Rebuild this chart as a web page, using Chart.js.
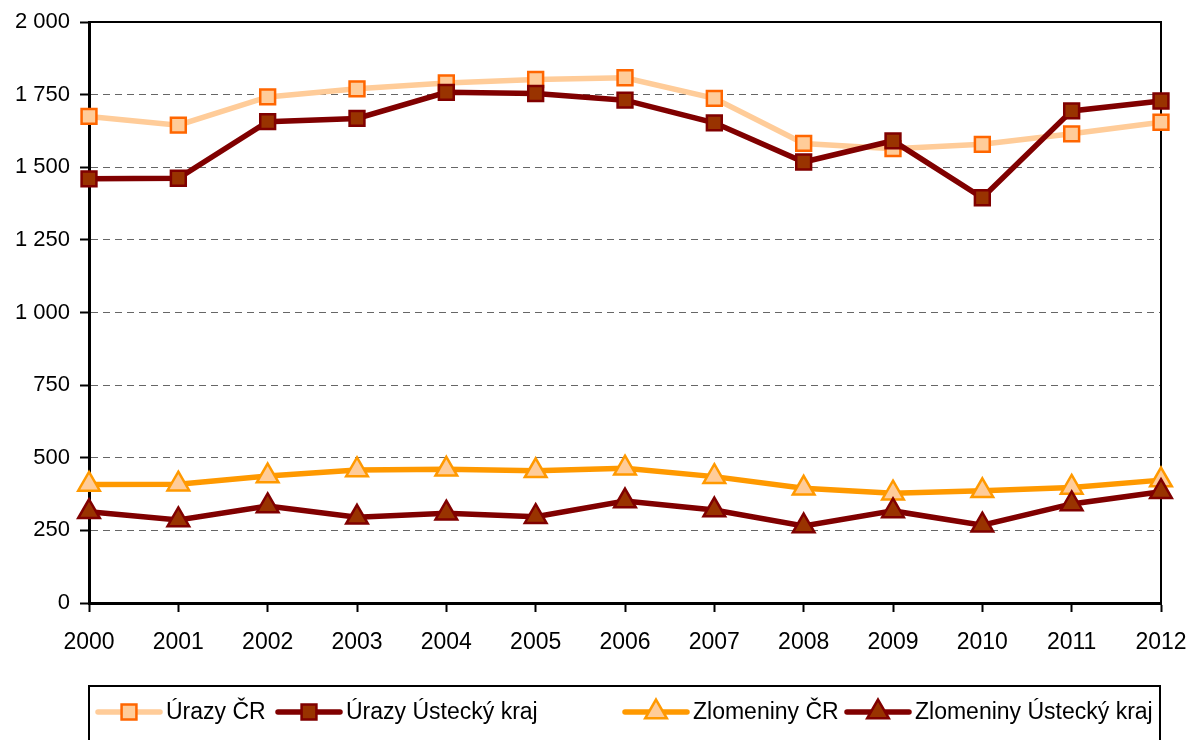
<!DOCTYPE html>
<html>
<head>
<meta charset="utf-8">
<script src="https://cdn.jsdelivr.net/npm/chart.js@4/dist/chart.umd.min.js"></script>
<style>
  body { margin: 0; background: #fff; }
  #wrap { width: 1195px; height: 740px; position: relative; }
</style>
</head>
<body>
<div id="wrap"><canvas id="myChart"></canvas></div>
<script>
// -------------------- Data -------------------- //

var years = ["2000","2001","2002","2003","2004","2005","2006","2007","2008","2009","2010","2011","2012"];

var urazyCR       = [1675, 1645, 1742, 1770, 1790, 1802, 1808, 1737, 1582, 1564, 1579, 1615, 1655];
var urazyUstecky  = [1460, 1462, 1657, 1668, 1758, 1754, 1731, 1653, 1518, 1591, 1395, 1694, 1728];
var zlomCR        = [408, 409, 437, 458, 460, 455, 464, 435, 395, 378, 386, 398, 423];
var zlomUstecky   = [314, 286, 334, 295, 309, 297, 351, 320, 265, 317, 268, 341, 383];

var seriesNames = ["Úrazy ČR", "Úrazy Ústecký kraj", "Zlomeniny ČR", "Zlomeniny Ústecký kraj"];

var yTicks = [0, 250, 500, 750, 1000, 1250, 1500, 1750, 2000];

var legendX = [98, 278, 625, 847]; // start of each legend entry

// -------------------- Helpers -------------------- //

function formatThousands(v) {
  if (v < 1000) return String(v);
  var rest = String(v % 1000);
  while (rest.length < 3) rest = "0" + rest;
  return Math.floor(v / 1000) + " " + rest;
}

function makeSeries(label, data, line, fill, border, shape, radius, order) {
  return {
    label: label,
    data: data,
    borderColor: line,
    borderWidth: 5.5,
    backgroundColor: fill,
    pointBackgroundColor: fill,
    pointBorderColor: border,
    pointBorderWidth: 2.5,
    pointStyle: shape,
    pointRadius: radius,
    pointHoverRadius: radius,
    tension: 0,
    fill: false,
    order: order
  };
}

// -------------------- Plugins -------------------- //

var framePlugin = {
  id: "frame",
  beforeDatasetsDraw: function(chart) {
    var a = chart.chartArea;
    var ctx = chart.ctx;
    ctx.save();
    ctx.strokeStyle = "#000";
    ctx.lineWidth = 2;
    ctx.beginPath();
    ctx.moveTo(a.left, a.top);
    ctx.lineTo(a.right, a.top);
    ctx.lineTo(a.right, a.bottom);
    ctx.stroke();
    ctx.restore();
  }
};

var legendPlugin = {
  id: "boxLegend",
  afterDraw: function(chart) {
    var ctx = chart.ctx;
    var y = 712;
    ctx.save();
    ctx.strokeStyle = "#000";
    ctx.lineWidth = 2;
    ctx.strokeRect(89, 686, 1071, 70);

    chart.data.datasets.forEach(function(ds, i) {
      var x0 = legendX[i];
      ctx.strokeStyle = ds.borderColor;
      ctx.lineWidth = 5.5;
      ctx.lineCap = "round";
      ctx.beginPath();
      ctx.moveTo(x0, y);
      ctx.lineTo(x0 + 62, y);
      ctx.stroke();

      ctx.fillStyle = ds.pointBackgroundColor;
      ctx.strokeStyle = ds.pointBorderColor;
      ctx.lineWidth = 2.5;
      Chart.helpers.drawPoint(ctx, { pointStyle: ds.pointStyle, radius: ds.pointRadius, borderWidth: 2.5, rotation: 0 }, x0 + 31, y);

      ctx.fillStyle = "#000";
      ctx.font = "23px 'Liberation Sans', Arial";
      ctx.textBaseline = "middle";
      ctx.textAlign = "left";
      ctx.fillText(ds.label, x0 + 68, y + 1);
    });
    ctx.restore();
  }
};

// -------------------- Chart -------------------- //

var chartDiv = document.getElementById("myChart").getContext("2d");
var chart = new Chart(chartDiv, {
  type: "line",
  data: {
    labels: years,
    datasets: [
      makeSeries(seriesNames[0], urazyCR, "#FFCC99", "#FFCC99", "#FF6600", "rect", 10.5, 1),
      makeSeries(seriesNames[1], urazyUstecky, "#800000", "#993300", "#800000", "rect", 10.5, 0),
      makeSeries(seriesNames[2], zlomCR, "#FF9900", "#FFCC99", "#FF9900", "triangle", 12.5, 3),
      makeSeries(seriesNames[3], zlomUstecky, "#800000", "#993300", "#800000", "triangle", 12.5, 2)
    ]
  },
  options: {
    responsive: true,
    maintainAspectRatio: false,
    animation: false,
    layout: { padding: { left: 0, right: 34, top: 22, bottom: 77 } },
    plugins: {
      legend: { display: false },
      tooltip: { enabled: false }
    },
    scales: {
      x: {
        offset: false,
        afterFit: function(scale) {
          scale.height = 60;
          scale.paddingLeft = 0;   // don't let the last label squeeze the plot
          scale.paddingRight = 0;
        },
        grid: {
          drawOnChartArea: false,
          tickLength: 9,
          tickColor: "#000",
          tickWidth: 2
        },
        border: { color: "#000", width: 3 },
        ticks: {
          color: "#000",
          padding: 17,
          maxRotation: 0,
          font: { family: "'Liberation Sans', Arial", size: 23 }
        }
      },
      y: {
        min: 0,
        max: 2000,
        afterFit: function(scale) {
          scale.width = 89;
          scale.paddingTop = 0;
          scale.paddingBottom = 0;
        },
        afterBuildTicks: function(scale) {
          scale.ticks = yTicks.map(function(v) { return { value: v }; });
        },
        grid: {
          color: "#666",
          lineWidth: 1,
          tickLength: 9,
          tickColor: "#000",
          tickWidth: 2,
          tickBorderDash: []
        },
        border: { color: "#000", width: 3, dash: [7, 5] },
        ticks: {
          color: "#000",
          padding: 10,
          font: { family: "'Liberation Sans', Arial", size: 22 },
          callback: function(v) { return formatThousands(v); }
        }
      }
    }
  },
  plugins: [framePlugin, legendPlugin]
});
</script>
</body>
</html>
